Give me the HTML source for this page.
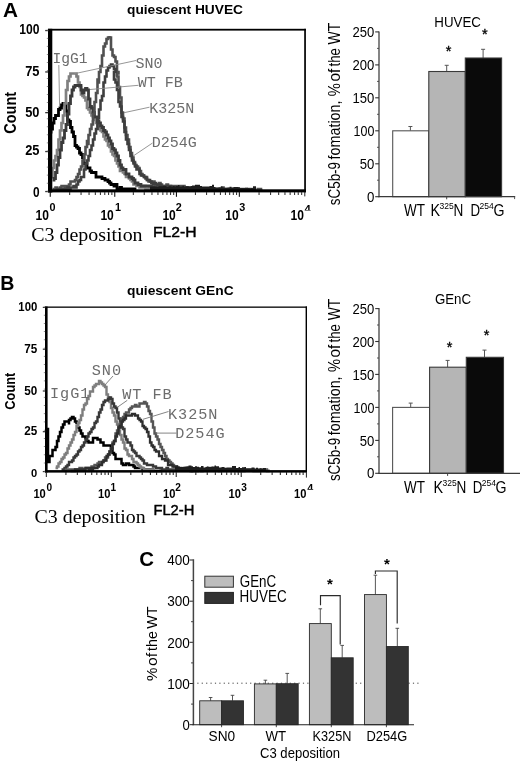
<!DOCTYPE html>
<html><head><meta charset="utf-8"><title>Figure</title>
<style>
html,body{margin:0;padding:0;background:#fff;}
svg{display:block;}
text{font-family:"Liberation Sans",sans-serif;fill:#000;}
.mono{font-family:"Liberation Mono",monospace;fill:#6c6c6c;}
.serif{font-family:"Liberation Serif",serif;}
.b{font-weight:bold;}
</style></head><body>
<svg width="520" height="762" viewBox="0 0 520 762">
<rect width="520" height="762" fill="#fff"/>
<g id="histA">
<path d="M51.0 133.5V130.5V129.0H52.5V126.0V124.5V123.0H54.0V121.5V118.5H55.5V115.5H57.0H58.5V112.5V109.5H60.0V108.0H61.5V106.5V105.0H63.0V103.5H64.5V105.0H66.0V108.0V111.0H67.5V112.5V114.0V115.5V118.5V120.0H69.0V121.5H70.5V124.5V127.5H72.0V129.0V130.5V132.0H73.5V133.5V135.0V136.5H75.0V139.5V141.0V142.5V145.5H76.5V147.0H78.0V148.5H79.5V151.5V153.0H81.0V154.5H82.5V157.5H84.0V159.0V163.5H85.5H87.0V165.0V168.0H88.5H90.0V171.0H91.5V172.5H94.5V171.0V172.5H96.0V175.5V177.0H97.5H100.5H102.0V178.5H103.5H105.0V180.0H106.5H108.0V181.5H109.5V183.0H111.0V184.5H112.5H114.0V186.0H115.5V184.5H117.0V187.5V189.0H120.0V187.5H121.5V189.0H123.0H126.0H127.5V190.5H129.0V189.0H130.5H132.0V190.5H133.5V189.0H135.0V190.5" fill="none" stroke="#000" stroke-width="2.8" stroke-linejoin="miter"/>
<path d="M52.5 178.5V177.0V174.0V171.0V169.5V168.0H54.0V166.5V165.0V163.5V160.5H55.5V157.5V156.0H57.0V154.5V151.5V150.0H58.5V147.0V145.5V142.5V139.5H60.0V136.5V133.5V130.5H61.5V129.0V127.5V126.0V123.0H63.0V121.5V120.0V117.0V115.5H64.5V114.0V112.5V111.0V109.5V108.0V105.0V103.5H66.0V100.5V99.0V96.0V94.5V93.0V91.5V90.0H67.5V87.0V85.5V84.0V82.5V81.0H69.0V78.0V76.5H70.5V73.5H73.5H76.5V76.5H78.0V79.5V82.5H79.5V84.0V87.0H81.0V90.0V91.5V94.5H82.5V96.0H84.0V97.5H85.5V100.5H87.0V103.5V105.0V108.0H88.5V109.5H90.0V112.5H91.5V115.5H93.0V117.0H94.5V120.0H96.0V121.5V123.0H97.5V126.0H99.0V129.0H100.5V130.5H102.0V132.0H103.5V135.0V136.5H105.0V138.0V139.5H106.5V141.0H108.0V142.5V145.5H109.5V147.0H111.0V148.5V151.5H112.5V154.5H114.0V156.0H115.5V157.5V159.0V160.5H117.0V163.5H118.5V165.0V166.5H120.0V168.0V171.0H121.5H123.0V172.5H124.5V174.0H126.0V175.5V177.0H127.5H129.0V178.5H130.5V180.0H132.0V181.5H133.5V184.5H135.0H136.5V186.0H138.0H139.5V187.5H141.0H144.0V186.0H145.5V189.0H147.0H148.5V187.5H151.5V189.0H153.0V190.5H154.5V189.0H156.0V190.5H157.5V189.0H159.0H162.0H163.5V190.5H165.0H166.5H168.0H169.5" fill="none" stroke="#808080" stroke-width="2.7" stroke-linejoin="miter"/>
<path d="M54.0 181.5V180.0V178.5H55.5V177.0V174.0V172.5H57.0V171.0V169.5V168.0V166.5V165.0H58.5V162.0V160.5V157.5H60.0V156.0V154.5V153.0V151.5V150.0H61.5V148.5V145.5V142.5H63.0V141.0V139.5V138.0H64.5V136.5V135.0V132.0V130.5H66.0V127.5V124.5H67.5V123.0V120.0V118.5V117.0V114.0H69.0V111.0V109.5V106.5V103.5H70.5V102.0V100.5V99.0V97.5V96.0H72.0V94.5V93.0V90.0H73.5V87.0H75.0V85.5H76.5H78.0V84.0V85.5H79.5H81.0V87.0V90.0H82.5V93.0H84.0V90.0H85.5V88.5H87.0V90.0H88.5V91.5V94.5V96.0V97.5V99.0H90.0V103.5V106.5H91.5V108.0H93.0V111.0V112.5H94.5V117.0H96.0H97.5V118.5V121.5H99.0V123.0H100.5V126.0H102.0V127.5H103.5V129.0V130.5H105.0V132.0H106.5V135.0H108.0V138.0H109.5V141.0H111.0V142.5V144.0H112.5V145.5V148.5H114.0V150.0H115.5V153.0H117.0V154.5V156.0H118.5V159.0V160.5H120.0V163.5V165.0H121.5V168.0H123.0V169.5H124.5H126.0V171.0V174.0H127.5H129.0V177.0H130.5H132.0V178.5H133.5V180.0H135.0V183.0H138.0V184.5H141.0V183.0V186.0H144.0H145.5H147.0H150.0H151.5V187.5H153.0V189.0H154.5V187.5H156.0V189.0H157.5V187.5H160.5H162.0H163.5V189.0H165.0H166.5H168.0V187.5H169.5V190.5H172.5V189.0" fill="none" stroke="#3a3a3a" stroke-width="2.8" stroke-linejoin="miter"/>
<path d="M52.5 189.0H54.0H55.5V187.5H57.0V189.0H60.0V187.5H61.5V186.0H63.0H64.5V187.5H66.0V186.0H69.0V184.5H70.5V181.5H72.0H73.5H75.0V180.0H76.5V178.5V177.0H78.0V174.0H79.5V171.0V169.5H81.0V168.0V166.5H82.5V163.5V160.5H84.0V157.5V156.0V154.5H85.5V153.0V150.0V148.5V147.0H87.0V144.0H88.5V142.5H87.0V141.0H88.5V139.5V138.0V135.0H90.0V133.5V130.5V129.0H91.5V127.5V124.5H93.0V121.5H91.5H93.0V118.5V117.0V114.0H94.5V112.5V109.5V106.5V102.0H96.0V100.5V97.5V96.0V94.5V93.0H97.5V91.5V90.0V87.0V84.0V82.5H99.0V81.0H97.5V79.5H99.0V76.5V73.5V72.0H100.5V70.5V69.0V66.0H102.0V63.0V60.0V58.5V55.5H103.5V54.0V51.0V48.0V46.5H105.0V43.5H106.5V40.5V39.0H108.0V37.5H109.5V36.0V37.5H111.0V39.0V40.5V42.0V43.5V46.5V48.0V49.5H112.5V51.0V52.5V55.5H114.0V57.0H115.5V58.5V60.0V61.5H117.0V64.5V66.0V67.5V70.5V72.0H118.5V73.5H117.0V76.5H118.5V79.5V81.0V82.5V85.5V87.0H120.0V90.0V91.5V93.0V96.0V97.5H121.5V99.0V100.5V103.5V105.0V108.0V109.5V112.5H123.0V114.0V115.5V117.0V118.5H124.5V121.5V123.0V124.5V127.5H126.0V129.0V132.0V135.0H127.5V136.5V138.0V139.5H129.0V142.5V144.0V147.0H130.5V148.5V151.5V153.0H132.0V154.5V156.0V157.5H133.5V162.0H135.0V165.0H136.5V166.5H138.0V168.0H139.5V171.0H141.0V174.0H142.5V175.5H144.0V177.0H147.0V178.5V180.0H148.5V181.5H150.0H151.5V183.0H153.0V181.5H154.5V184.5H156.0H159.0V183.0H160.5V184.5H162.0V186.0H165.0H166.5V184.5H168.0V186.0H169.5H171.0H174.0H175.5H177.0V187.5H178.5V186.0H180.0H181.5H183.0H184.5V187.5H186.0H189.0V189.0H190.5H192.0V187.5H193.5V189.0H195.0V190.5H196.5V189.0H198.0V190.5H199.5V189.0H201.0H204.0V190.5H205.5H207.0H208.5V189.0H210.0V190.5H211.5V189.0H213.0H214.5H216.0H219.0V190.5H220.5H222.0V187.5H223.5V189.0H225.0H226.5H228.0V190.5H229.5H231.0V189.0H234.0V190.5H235.5V189.0H237.0H238.5H240.0H241.5H243.0H244.5V190.5H247.5V189.0H249.0H250.5V190.5H252.0H253.5V189.0H255.0V190.5H256.5H258.0V189.0H261.0V190.5H262.5" fill="none" stroke="#505050" stroke-width="2.6" stroke-linejoin="miter"/>
<path d="M55.5 189.0H58.5H60.0H61.5H63.0H64.5H67.5V187.5H69.0V189.0H70.5V187.5H72.0H73.5V186.0H75.0V187.5H76.5V184.5H78.0V181.5H79.5V180.0H81.0V177.0H82.5H84.0V172.5V171.0V172.5V169.5H85.5V166.5V165.0V163.5H87.0V162.0V160.5H88.5V159.0V156.0H90.0V154.5V151.5V150.0H91.5V148.5V147.0V145.5H93.0V144.0V141.0V139.5H94.5V136.5V135.0V133.5H96.0V132.0V129.0H97.5V126.0V123.0V121.5V118.5H99.0V117.0V115.5V114.0V112.5V109.5H100.5V108.0V106.5V105.0V103.5V100.5H102.0V97.5V96.0H103.5V91.5V90.0V88.5V85.5V84.0V82.5H105.0V81.0V79.5V78.0V76.5H106.5V75.0V72.0V70.5H108.0V67.5H109.5V66.0H111.0V64.5H112.5V66.0H114.0V69.0H115.5V72.0H114.0V75.0H115.5H114.0V79.5H115.5V81.0V82.5H117.0V85.5V88.5V90.0H118.5V91.5V93.0V94.5V96.0V97.5V99.0V102.0H120.0V103.5V105.0V106.5H121.5V108.0V111.0V112.5V114.0V117.0H123.0V118.5V121.5H124.5V123.0V124.5V127.5V129.0V130.5V132.0H126.0V133.5V135.0V136.5V139.5H127.5V141.0V142.5V144.0H129.0V145.5V147.0V148.5V150.0H130.5V154.5V156.0H132.0V159.0V160.5H133.5V162.0V163.5H135.0V165.0V166.5H136.5V168.0V169.5H138.0H139.5V172.5V174.0H141.0V175.5H142.5H144.0V177.0H145.5V178.5H147.0V180.0H148.5H150.0V181.5H151.5V183.0H153.0V184.5H154.5V183.0H156.0V184.5H157.5V186.0H159.0V184.5H160.5V186.0H163.5H165.0H166.5H168.0H169.5H171.0V187.5H172.5H175.5H177.0V189.0H180.0H181.5H183.0V187.5H184.5V189.0H186.0V187.5H187.5V189.0H190.5H192.0H193.5H195.0" fill="none" stroke="#3e3e3e" stroke-width="2.6" stroke-linejoin="miter"/>
<polygon points="150.0,190.0 150.0,186.4 153.0,186.4 153.0,186.4 155.0,186.4 155.0,186.7 157.0,186.7 157.0,186.9 158.5,186.9 158.5,186.2 160.0,186.2 160.0,186.2 163.0,186.2 163.0,186.1 165.0,186.1 165.0,186.1 166.5,186.1 166.5,186.9 168.5,186.9 168.5,186.2 171.0,186.2 171.0,186.4 173.0,186.4 173.0,186.1 174.5,186.1 174.5,186.4 176.0,186.4 176.0,186.0 178.0,186.0 178.0,185.1 179.5,185.1 179.5,186.4 182.5,186.4 182.5,185.7 184.0,185.7 184.0,186.7 185.5,186.7 185.5,186.3 188.5,186.3 188.5,186.4 190.5,186.4 190.5,185.9 192.0,185.9 192.0,185.4 195.0,185.4 195.0,184.7 197.0,184.7 197.0,184.8 200.0,184.8 200.0,185.9 202.0,185.9 202.0,186.4 204.0,186.4 204.0,186.5 207.0,186.5 207.0,186.6 209.5,186.6 209.5,186.1 212.0,186.1 212.0,184.8 214.0,184.8 214.0,186.9 215.5,186.9 215.5,187.4 218.5,187.4 218.5,187.2 221.0,187.2 221.0,186.5 222.5,186.5 222.5,187.5 224.5,187.5 224.5,187.7 227.5,187.7 227.5,187.6 229.5,187.6 229.5,186.7 231.5,186.7 231.5,187.5 233.5,187.5 233.5,187.0 235.5,187.0 235.5,187.1 238.5,187.1 238.5,187.3 240.0,187.3 240.0,188.0 242.5,188.0 242.5,187.9 245.0,187.9 245.0,187.8 248.0,187.8 248.0,188.0 249.5,188.0 249.5,188.3 251.0,188.3 251.0,188.1 253.0,188.1 253.0,186.3 256.0,186.3 256.0,190.0" fill="#1e1e1e"/>
<rect x="48" y="28.8" width="4.3" height="163.7" fill="#000"/>
<rect x="48" y="189.3" width="257.9" height="3.1" fill="#000"/>
<rect x="48" y="28.8" width="257.9" height="1.8" fill="#000"/>
<rect x="304.2" y="28.8" width="1.7" height="163.4" fill="#000"/>
<rect x="45.2" y="29.9" width="3" height="1.3" fill="#333"/>
<text x="19.3" y="34.4" font-size="13.8" class="b" textLength="20.2" lengthAdjust="spacingAndGlyphs">100</text>
<rect x="45.2" y="71.3" width="3" height="1.3" fill="#333"/>
<text x="25.2" y="75.8" font-size="13.8" class="b" textLength="14.3" lengthAdjust="spacingAndGlyphs">75</text>
<rect x="45.2" y="112.0" width="3" height="1.3" fill="#333"/>
<text x="25.2" y="116.5" font-size="13.8" class="b" textLength="14.3" lengthAdjust="spacingAndGlyphs">50</text>
<rect x="45.2" y="150.9" width="3" height="1.3" fill="#333"/>
<text x="25.2" y="155.4" font-size="13.8" class="b" textLength="14.3" lengthAdjust="spacingAndGlyphs">25</text>
<rect x="45.2" y="190.9" width="3" height="1.3" fill="#333"/>
<text x="32.9" y="197.0" font-size="13.8" class="b" textLength="6.6" lengthAdjust="spacingAndGlyphs">0</text>
<rect x="46.8" y="29.8" width="1.4" height="0.8" fill="#777"/>
<rect x="46.8" y="37.9" width="1.4" height="0.8" fill="#777"/>
<rect x="46.8" y="45.9" width="1.4" height="0.8" fill="#777"/>
<rect x="46.8" y="54.0" width="1.4" height="0.8" fill="#777"/>
<rect x="46.8" y="62.0" width="1.4" height="0.8" fill="#777"/>
<rect x="46.8" y="70.0" width="1.4" height="0.8" fill="#777"/>
<rect x="46.8" y="78.1" width="1.4" height="0.8" fill="#777"/>
<rect x="46.8" y="86.2" width="1.4" height="0.8" fill="#777"/>
<rect x="46.8" y="94.2" width="1.4" height="0.8" fill="#777"/>
<rect x="46.8" y="102.2" width="1.4" height="0.8" fill="#777"/>
<rect x="46.8" y="110.3" width="1.4" height="0.8" fill="#777"/>
<rect x="46.8" y="118.4" width="1.4" height="0.8" fill="#777"/>
<rect x="46.8" y="126.4" width="1.4" height="0.8" fill="#777"/>
<rect x="46.8" y="134.4" width="1.4" height="0.8" fill="#777"/>
<rect x="46.8" y="142.5" width="1.4" height="0.8" fill="#777"/>
<rect x="46.8" y="150.6" width="1.4" height="0.8" fill="#777"/>
<rect x="46.8" y="158.6" width="1.4" height="0.8" fill="#777"/>
<rect x="46.8" y="166.7" width="1.4" height="0.8" fill="#777"/>
<rect x="46.8" y="174.7" width="1.4" height="0.8" fill="#777"/>
<rect x="46.8" y="182.8" width="1.4" height="0.8" fill="#777"/>
<rect x="46.8" y="190.8" width="1.4" height="0.8" fill="#777"/>
<rect x="49.7" y="192" width="1.1" height="4.8" fill="#111"/>
<rect x="69.1" y="192" width="1.1" height="3.0" fill="#3a3a3a"/>
<rect x="80.5" y="192" width="1.1" height="3.0" fill="#3a3a3a"/>
<rect x="88.5" y="192" width="1.1" height="3.0" fill="#3a3a3a"/>
<rect x="94.8" y="192" width="1.1" height="3.0" fill="#3a3a3a"/>
<rect x="99.9" y="192" width="1.1" height="3.0" fill="#3a3a3a"/>
<rect x="104.2" y="192" width="1.1" height="3.0" fill="#3a3a3a"/>
<rect x="108.0" y="192" width="1.1" height="3.0" fill="#3a3a3a"/>
<rect x="111.3" y="192" width="1.1" height="3.0" fill="#3a3a3a"/>
<rect x="114.2" y="192" width="1.1" height="4.8" fill="#111"/>
<rect x="132.8" y="192" width="1.1" height="3.0" fill="#3a3a3a"/>
<rect x="143.7" y="192" width="1.1" height="3.0" fill="#3a3a3a"/>
<rect x="151.4" y="192" width="1.1" height="3.0" fill="#3a3a3a"/>
<rect x="157.4" y="192" width="1.1" height="3.0" fill="#3a3a3a"/>
<rect x="162.3" y="192" width="1.1" height="3.0" fill="#3a3a3a"/>
<rect x="166.4" y="192" width="1.1" height="3.0" fill="#3a3a3a"/>
<rect x="170.0" y="192" width="1.1" height="3.0" fill="#3a3a3a"/>
<rect x="173.1" y="192" width="1.1" height="3.0" fill="#3a3a3a"/>
<rect x="175.9" y="192" width="1.1" height="4.8" fill="#111"/>
<rect x="194.9" y="192" width="1.1" height="3.0" fill="#3a3a3a"/>
<rect x="206.0" y="192" width="1.1" height="3.0" fill="#3a3a3a"/>
<rect x="213.8" y="192" width="1.1" height="3.0" fill="#3a3a3a"/>
<rect x="219.9" y="192" width="1.1" height="3.0" fill="#3a3a3a"/>
<rect x="224.9" y="192" width="1.1" height="3.0" fill="#3a3a3a"/>
<rect x="229.1" y="192" width="1.1" height="3.0" fill="#3a3a3a"/>
<rect x="232.8" y="192" width="1.1" height="3.0" fill="#3a3a3a"/>
<rect x="236.0" y="192" width="1.1" height="3.0" fill="#3a3a3a"/>
<rect x="238.8" y="192" width="1.1" height="4.8" fill="#111"/>
<rect x="258.5" y="192" width="1.1" height="3.0" fill="#3a3a3a"/>
<rect x="270.0" y="192" width="1.1" height="3.0" fill="#3a3a3a"/>
<rect x="278.1" y="192" width="1.1" height="3.0" fill="#3a3a3a"/>
<rect x="284.4" y="192" width="1.1" height="3.0" fill="#3a3a3a"/>
<rect x="289.6" y="192" width="1.1" height="3.0" fill="#3a3a3a"/>
<rect x="294.0" y="192" width="1.1" height="3.0" fill="#3a3a3a"/>
<rect x="297.7" y="192" width="1.1" height="3.0" fill="#3a3a3a"/>
<rect x="301.1" y="192" width="1.1" height="3.0" fill="#3a3a3a"/>
<rect x="304.3" y="192" width="1.0" height="4.4" fill="#222"/>
<text x="35.6" y="219.8" font-size="14" class="b" textLength="13.4" lengthAdjust="spacingAndGlyphs">10</text>
<text x="49.6" y="211" font-size="10" class="b" textLength="6.0" lengthAdjust="spacingAndGlyphs">0</text>
<text x="100.4" y="219.8" font-size="14" class="b" textLength="13.4" lengthAdjust="spacingAndGlyphs">10</text>
<text x="115.0" y="211" font-size="10" class="b" textLength="6.0" lengthAdjust="spacingAndGlyphs">1</text>
<text x="162.4" y="219.8" font-size="14" class="b" textLength="13.4" lengthAdjust="spacingAndGlyphs">10</text>
<text x="175.8" y="211" font-size="10" class="b" textLength="6.0" lengthAdjust="spacingAndGlyphs">2</text>
<text x="225.2" y="219.8" font-size="14" class="b" textLength="13.4" lengthAdjust="spacingAndGlyphs">10</text>
<text x="239.2" y="211" font-size="10" class="b" textLength="6.0" lengthAdjust="spacingAndGlyphs">3</text>
<text x="290.6" y="219.8" font-size="14" class="b" textLength="13.4" lengthAdjust="spacingAndGlyphs">10</text>
<clipPath id="c4a"><rect x="300" y="200" width="20" height="10.4"/></clipPath>
<text x="304.6" y="212.6" font-size="10.5" class="b" textLength="6.2" lengthAdjust="spacingAndGlyphs" clip-path="url(#c4a)">4</text>
<text x="52.6" y="63.3" font-size="14.6" class="mono">IgG1</text>
<text x="135.4" y="68.3" font-size="15" class="mono">SN0</text>
<text x="137.8" y="87" font-size="15" class="mono">WT FB</text>
<text x="149.2" y="113.3" font-size="15" class="mono">K325N</text>
<text x="151.8" y="146.6" font-size="15" class="mono">D254G</text>
<line x1="58.8" y1="65" x2="59.6" y2="106" stroke="#8a8a8a" stroke-width="0.9"/>
<line x1="136" y1="60.5" x2="74" y2="73.8" stroke="#8a8a8a" stroke-width="0.9"/>
<line x1="138.5" y1="85.3" x2="90" y2="89.5" stroke="#8a8a8a" stroke-width="0.9"/>
<line x1="149.5" y1="107.2" x2="124" y2="112.7" stroke="#8a8a8a" stroke-width="0.9"/>
<line x1="152.5" y1="143" x2="133.8" y2="155.6" stroke="#8a8a8a" stroke-width="0.9"/>
<text x="127" y="13.9" font-size="13.5" class="b" textLength="116" lengthAdjust="spacingAndGlyphs">quiescent HUVEC</text>
<text transform="translate(15.5,112.8) rotate(-90)" font-size="16.2" class="b" text-anchor="middle" textLength="41.8" lengthAdjust="spacingAndGlyphs">Count</text>
<text x="31.3" y="241.3" font-size="18.6" class="serif" textLength="111.3" lengthAdjust="spacingAndGlyphs">C3 deposition</text>
<text x="153" y="237.4" font-size="15.4" stroke="#000" stroke-width="0.45" textLength="43.6" lengthAdjust="spacingAndGlyphs">FL2-H</text>
<text transform="translate(2.9,16.5) scale(1.06,1)" font-size="19.6" class="b">A</text>
</g>
<g id="histB">
<path d="M46.5 429.0H48.0V430.5V432.0V433.5V435.0V438.0V441.0V442.5V445.5V447.0V450.0V451.5V453.0V456.0V457.5V460.5V462.0H49.5V459.0V456.0H51.0H52.5V453.0V450.0H54.0H55.5V447.0H57.0V444.0V442.5V441.0H58.5V439.5V436.5H60.0V433.5V432.0H61.5V430.5V427.5H63.0V426.0V424.5H64.5V423.0V421.5H67.5H69.0V424.5V423.0V420.0H70.5V418.5H72.0V417.0H73.5V418.5H75.0V421.5H76.5V423.0H78.0V424.5V426.0V427.5H79.5V430.5H81.0V433.5H82.5V435.0V436.5H85.5V438.0H87.0V441.0H88.5V442.5H90.0H91.5H93.0V438.0H94.5H96.0H97.5V439.5H100.5V441.0V442.5H102.0H103.5V445.5H105.0H108.0H109.5H111.0V448.5H112.5V451.5V453.0H114.0V454.5H115.5V456.0V459.0H118.5H120.0H121.5V462.0V463.5H123.0V465.0H124.5H126.0V463.5H129.0V465.0H130.5H132.0H133.5V466.5H135.0V468.0H136.5H138.0H139.5H141.0H142.5V469.5H145.5H147.0H148.5H150.0V471.0H151.5V469.5H153.0V471.0H154.5H156.0H157.5H160.5V469.5" fill="none" stroke="#000" stroke-width="2.5" stroke-linejoin="miter"/>
<path d="M55.5 468.0H57.0V466.5H58.5V463.5H60.0V462.0H61.5V460.5V459.0H63.0V457.5H64.5V454.5H66.0V453.0H67.5V451.5V450.0V448.5H69.0V447.0V445.5H70.5V444.0V442.5H72.0V441.0V439.5H73.5V438.0V435.0H75.0V433.5V432.0H76.5V429.0V426.0H78.0V423.0H79.5V421.5V420.0H81.0V417.0V415.5H82.5V412.5V411.0V409.5H84.0V408.0V405.0H85.5V403.5H87.0V402.0V399.0H88.5V396.0H90.0V394.5V391.5H91.5H93.0V390.0V387.0H94.5V385.5H96.0V384.0H97.5H99.0V381.0H100.5V382.5H102.0V384.0H103.5V385.5H105.0V387.0H106.5V390.0V393.0V394.5H108.0V396.0V397.5H109.5V400.5V402.0H111.0V403.5V405.0V406.5V408.0H112.5V409.5V411.0V412.5H114.0V415.5H115.5V417.0V420.0V421.5H117.0V423.0V424.5H118.5V426.0V429.0V430.5H120.0V433.5V435.0H121.5V438.0V439.5H123.0V441.0V442.5H124.5V444.0V445.5V448.5H126.0V450.0H127.5V451.5V453.0V454.5H129.0V456.0H130.5H132.0V459.0H133.5V462.0H135.0H136.5V463.5H138.0V465.0H139.5V466.5H141.0V468.0H142.5H144.0V469.5H145.5H148.5H150.0H151.5H153.0H154.5" fill="none" stroke="#7e7e7e" stroke-width="2.4" stroke-linejoin="miter"/>
<path d="M61.5 469.5H63.0H64.5V468.0H66.0V466.5H67.5V465.0H69.0V463.5V462.0H72.0V460.5H73.5V459.0V457.5H75.0V456.0H76.5V454.5H78.0V453.0V451.5H79.5V450.0H81.0V447.0H82.5V445.5H84.0V444.0V442.5H85.5V441.0V439.5H87.0V436.5H88.5V433.5H90.0V432.0H91.5V430.5V429.0H93.0V427.5H94.5V426.0V423.0H96.0V421.5H97.5V420.0V418.5V417.0H99.0V414.0V412.5H100.5V411.0V409.5H102.0V406.5V405.0H103.5V402.0H105.0V400.5H106.5H108.0V399.0H109.5V397.5H111.0V399.0H112.5V400.5V403.5H114.0V406.5H115.5V408.0H117.0V409.5V411.0V412.5H118.5V415.5V417.0V418.5H120.0V420.0V421.5V423.0H121.5V424.5V427.5H123.0V429.0H124.5V432.0V433.5V436.5H126.0V438.0V439.5H127.5V442.5H129.0H130.5V444.0V445.5H132.0V447.0V450.0H133.5V451.5H135.0V453.0H136.5V454.5V456.0H138.0H139.5V457.5H141.0V459.0H142.5V460.5H144.0V463.5H145.5H147.0V465.0H148.5H150.0H151.5H153.0V466.5H154.5H156.0V468.0H159.0H160.5H162.0V469.5H163.5H165.0H166.5V468.0H168.0V469.5H169.5H171.0H174.0H175.5" fill="none" stroke="#383838" stroke-width="2.4" stroke-linejoin="miter"/>
<path d="M64.5 471.0H66.0V469.5H67.5H69.0H70.5H72.0H73.5H75.0H76.5H78.0H79.5V468.0H81.0H82.5V469.5H85.5V468.0H87.0H88.5H90.0H91.5V466.5H93.0V468.0H94.5V465.0H96.0H97.5V463.5H99.0V462.0H100.5V463.5H102.0V462.0H103.5V460.5H105.0V459.0V457.5H106.5H108.0V454.5H109.5V451.5H111.0V450.0V448.5H112.5V447.0V445.5V442.5H114.0V441.0H115.5V438.0V436.5V433.5H117.0V432.0V430.5H118.5V429.0V426.0H120.0V424.5V423.0H121.5V420.0V418.5H123.0V417.0H124.5V415.5V414.0H126.0V412.5H127.5H129.0V409.5H130.5V408.0H132.0V406.5H135.0V405.0H136.5V406.5H138.0H139.5V403.5H142.5H144.0V402.0H145.5V403.5H147.0V406.5H148.5V408.0V409.5V411.0H150.0V414.0H151.5V417.0V420.0V421.5H153.0V424.5V426.0V427.5H154.5V429.0V433.5H156.0V436.5H157.5V439.5H159.0V441.0V444.0H160.5V445.5V447.0H162.0V450.0H163.5V451.5V453.0H165.0V454.5V456.0H166.5V457.5V459.0H168.0V460.5H169.5V462.0H171.0V463.5H172.5V465.0H174.0V466.5H175.5H177.0V468.0H178.5H181.5V469.5H183.0H184.5H186.0H187.5H189.0H192.0V471.0H193.5H195.0H196.5H198.0V469.5H199.5H201.0V471.0H202.5V469.5H205.5H207.0V468.0H208.5V469.5H210.0V468.0H211.5V469.5H213.0H214.5H216.0H219.0V471.0H220.5V469.5H222.0H223.5H225.0H226.5H228.0H229.5H231.0H234.0H235.5H237.0H238.5V471.0H240.0V469.5H241.5H243.0V471.0H244.5V469.5H246.0H249.0H250.5H252.0H253.5V471.0H255.0H256.5H258.0H259.5V469.5H261.0H264.0V471.0V469.5H267.0V471.0H268.5V469.5" fill="none" stroke="#555" stroke-width="2.4" stroke-linejoin="miter"/>
<path d="M70.5 471.0H72.0H73.5H75.0V469.5H76.5H78.0H79.5H81.0H82.5H85.5V468.0H87.0H88.5V469.5H90.0V468.0H91.5V469.5H93.0V468.0H94.5H97.5V466.5H99.0V465.0H102.0V462.0H103.5V460.5H105.0H106.5V459.0V456.0H108.0V454.5H109.5V453.0V451.5H111.0V450.0V448.5H112.5V445.5V444.0H114.0V442.5V441.0H115.5V438.0V436.5H117.0V435.0V433.5H118.5V430.5V427.5H120.0V426.0H121.5V424.5V421.5H123.0V420.0H124.5V418.5H126.0V415.5H127.5H129.0H130.5H132.0V414.0H135.0V415.5H138.0V417.0V418.5H139.5V420.0H141.0V421.5H142.5V424.5V426.0H144.0V427.5H145.5V429.0H147.0V430.5V432.0H148.5V433.5V436.5H150.0V438.0V441.0V442.5H151.5V444.0V445.5H153.0V447.0H154.5V448.5V450.0H156.0V451.5H157.5H159.0V454.5V456.0H160.5H162.0V459.0H163.5H165.0V460.5H166.5H168.0V463.5V465.0H169.5H172.5V466.5H175.5H177.0V468.0H178.5V469.5H181.5H183.0H184.5H186.0H187.5H189.0H190.5V471.0H192.0V469.5" fill="none" stroke="#2e2e2e" stroke-width="2.3" stroke-linejoin="miter"/>
<polygon points="175.0,471.0 175.0,466.6 176.5,466.6 176.5,466.3 178.5,466.3 178.5,466.6 180.0,466.6 180.0,466.9 183.0,466.9 183.0,466.7 184.5,466.7 184.5,466.4 186.5,466.4 186.5,466.2 188.5,466.2 188.5,465.4 191.5,465.4 191.5,466.2 193.0,466.2 193.0,467.1 195.0,467.1 195.0,466.3 197.0,466.3 197.0,466.7 199.0,466.7 199.0,467.2 201.0,467.2 201.0,466.1 203.5,466.1 203.5,467.4 205.5,467.4 205.5,467.1 207.0,467.1 207.0,466.6 208.5,466.6 208.5,467.0 211.5,467.0 211.5,466.5 214.5,466.5 214.5,465.5 216.0,465.5 216.0,466.2 219.0,466.2 219.0,467.5 221.5,467.5 221.5,467.1 224.5,467.1 224.5,467.7 226.5,467.7 226.5,467.6 229.5,467.6 229.5,467.5 232.0,467.5 232.0,466.0 234.5,466.0 234.5,466.0 236.0,466.0 236.0,467.9 238.5,467.9 238.5,467.0 240.0,467.0 240.0,467.9 242.0,467.9 242.0,467.3 244.5,467.3 244.5,467.1 246.0,467.1 246.0,468.4 249.0,468.4 249.0,468.5 251.5,468.5 251.5,467.6 254.5,467.6 254.5,468.6 256.0,468.6 256.0,467.8 258.0,467.8 258.0,468.7 260.0,468.7 260.0,468.2 261.5,468.2 261.5,468.8 263.0,468.8 263.0,468.0 266.0,468.0 266.0,471.0" fill="#1e1e1e"/>
<rect x="45" y="306.5" width="2.6" height="166" fill="#000"/>
<rect x="45" y="470.1" width="262" height="2.5" fill="#000"/>
<rect x="45" y="306.5" width="262" height="1.3" fill="#000"/>
<rect x="305.6" y="306.5" width="1.4" height="165" fill="#000"/>
<rect x="42.8" y="306.8" width="2.4" height="1.2" fill="#333"/>
<text x="18.3" y="310.9" font-size="13" class="b" textLength="19.0" lengthAdjust="spacingAndGlyphs">100</text>
<rect x="42.8" y="348.6" width="2.4" height="1.2" fill="#333"/>
<text x="24.3" y="352.7" font-size="13" class="b" textLength="13.0" lengthAdjust="spacingAndGlyphs">75</text>
<rect x="42.8" y="390.4" width="2.4" height="1.2" fill="#333"/>
<text x="24.3" y="394.5" font-size="13" class="b" textLength="13.0" lengthAdjust="spacingAndGlyphs">50</text>
<rect x="42.8" y="431.1" width="2.4" height="1.2" fill="#333"/>
<text x="24.3" y="435.2" font-size="13" class="b" textLength="13.0" lengthAdjust="spacingAndGlyphs">25</text>
<rect x="42.8" y="471.0" width="2.4" height="1.2" fill="#333"/>
<text x="31.0" y="477.1" font-size="11" class="b" textLength="6.2" lengthAdjust="spacingAndGlyphs">0</text>
<rect x="43.8" y="306.6" width="1.3" height="0.8" fill="#777"/>
<rect x="43.8" y="314.8" width="1.3" height="0.8" fill="#777"/>
<rect x="43.8" y="323.0" width="1.3" height="0.8" fill="#777"/>
<rect x="43.8" y="331.2" width="1.3" height="0.8" fill="#777"/>
<rect x="43.8" y="339.4" width="1.3" height="0.8" fill="#777"/>
<rect x="43.8" y="347.7" width="1.3" height="0.8" fill="#777"/>
<rect x="43.8" y="355.9" width="1.3" height="0.8" fill="#777"/>
<rect x="43.8" y="364.1" width="1.3" height="0.8" fill="#777"/>
<rect x="43.8" y="372.3" width="1.3" height="0.8" fill="#777"/>
<rect x="43.8" y="380.5" width="1.3" height="0.8" fill="#777"/>
<rect x="43.8" y="388.7" width="1.3" height="0.8" fill="#777"/>
<rect x="43.8" y="396.9" width="1.3" height="0.8" fill="#777"/>
<rect x="43.8" y="405.1" width="1.3" height="0.8" fill="#777"/>
<rect x="43.8" y="413.3" width="1.3" height="0.8" fill="#777"/>
<rect x="43.8" y="421.5" width="1.3" height="0.8" fill="#777"/>
<rect x="43.8" y="429.8" width="1.3" height="0.8" fill="#777"/>
<rect x="43.8" y="438.0" width="1.3" height="0.8" fill="#777"/>
<rect x="43.8" y="446.2" width="1.3" height="0.8" fill="#777"/>
<rect x="43.8" y="454.4" width="1.3" height="0.8" fill="#777"/>
<rect x="43.8" y="462.6" width="1.3" height="0.8" fill="#777"/>
<rect x="43.8" y="470.8" width="1.3" height="0.8" fill="#777"/>
<rect x="45.8" y="472" width="1.05" height="5.0" fill="#222"/>
<rect x="65.4" y="472" width="1.05" height="3.0" fill="#222"/>
<rect x="76.8" y="472" width="1.05" height="3.0" fill="#222"/>
<rect x="84.9" y="472" width="1.05" height="3.0" fill="#222"/>
<rect x="91.2" y="472" width="1.05" height="3.0" fill="#222"/>
<rect x="96.3" y="472" width="1.05" height="3.0" fill="#222"/>
<rect x="100.7" y="472" width="1.05" height="3.0" fill="#222"/>
<rect x="104.5" y="472" width="1.05" height="3.0" fill="#222"/>
<rect x="107.8" y="472" width="1.05" height="3.0" fill="#222"/>
<rect x="110.8" y="472" width="1.05" height="5.0" fill="#222"/>
<rect x="130.3" y="472" width="1.05" height="3.0" fill="#222"/>
<rect x="141.7" y="472" width="1.05" height="3.0" fill="#222"/>
<rect x="149.9" y="472" width="1.05" height="3.0" fill="#222"/>
<rect x="156.1" y="472" width="1.05" height="3.0" fill="#222"/>
<rect x="161.3" y="472" width="1.05" height="3.0" fill="#222"/>
<rect x="165.6" y="472" width="1.05" height="3.0" fill="#222"/>
<rect x="169.4" y="472" width="1.05" height="3.0" fill="#222"/>
<rect x="172.7" y="472" width="1.05" height="3.0" fill="#222"/>
<rect x="175.7" y="472" width="1.05" height="5.0" fill="#222"/>
<rect x="195.3" y="472" width="1.05" height="3.0" fill="#222"/>
<rect x="206.7" y="472" width="1.05" height="3.0" fill="#222"/>
<rect x="214.8" y="472" width="1.05" height="3.0" fill="#222"/>
<rect x="221.1" y="472" width="1.05" height="3.0" fill="#222"/>
<rect x="226.2" y="472" width="1.05" height="3.0" fill="#222"/>
<rect x="230.6" y="472" width="1.05" height="3.0" fill="#222"/>
<rect x="234.4" y="472" width="1.05" height="3.0" fill="#222"/>
<rect x="237.7" y="472" width="1.05" height="3.0" fill="#222"/>
<rect x="240.7" y="472" width="1.05" height="5.0" fill="#222"/>
<rect x="260.2" y="472" width="1.05" height="3.0" fill="#222"/>
<rect x="271.6" y="472" width="1.05" height="3.0" fill="#222"/>
<rect x="279.8" y="472" width="1.05" height="3.0" fill="#222"/>
<rect x="286.0" y="472" width="1.05" height="3.0" fill="#222"/>
<rect x="291.2" y="472" width="1.05" height="3.0" fill="#222"/>
<rect x="295.5" y="472" width="1.05" height="3.0" fill="#222"/>
<rect x="299.3" y="472" width="1.05" height="3.0" fill="#222"/>
<rect x="302.6" y="472" width="1.05" height="3.0" fill="#222"/>
<rect x="305.9" y="472" width="1" height="5.6" fill="#222"/>
<text x="33.4" y="498.3" font-size="13.6" class="b" textLength="12.4" lengthAdjust="spacingAndGlyphs">10</text>
<text x="46.4" y="491.4" font-size="10" class="b" textLength="5.6" lengthAdjust="spacingAndGlyphs">0</text>
<text x="98.0" y="498.3" font-size="13.6" class="b" textLength="12.4" lengthAdjust="spacingAndGlyphs">10</text>
<text x="110.6" y="491.4" font-size="10" class="b" textLength="5.6" lengthAdjust="spacingAndGlyphs">1</text>
<text x="163.0" y="498.3" font-size="13.6" class="b" textLength="12.4" lengthAdjust="spacingAndGlyphs">10</text>
<text x="175.2" y="491.4" font-size="10" class="b" textLength="5.6" lengthAdjust="spacingAndGlyphs">2</text>
<text x="228.5" y="498.3" font-size="13.6" class="b" textLength="12.4" lengthAdjust="spacingAndGlyphs">10</text>
<text x="241.2" y="491.4" font-size="10" class="b" textLength="5.6" lengthAdjust="spacingAndGlyphs">3</text>
<text x="294.1" y="498.3" font-size="13.6" class="b" textLength="12.4" lengthAdjust="spacingAndGlyphs">10</text>
<clipPath id="c4b"><rect x="300" y="480" width="20" height="9.8"/></clipPath>
<text x="307.2" y="491.8" font-size="10.5" class="b" textLength="6" lengthAdjust="spacingAndGlyphs" clip-path="url(#c4b)">4</text>
<text x="50" y="398" font-size="15.2" letter-spacing="0.95" class="mono">IgG1</text>
<text x="91.8" y="374.8" font-size="15.2" letter-spacing="0.95" class="mono">SN0</text>
<text x="122.3" y="398.6" font-size="15.2" letter-spacing="0.95" class="mono">WT FB</text>
<text x="168" y="418.6" font-size="15.2" letter-spacing="0.95" class="mono">K325N</text>
<text x="175.2" y="437.8" font-size="15.2" letter-spacing="0.95" class="mono">D254G</text>
<line x1="113" y1="376" x2="104.5" y2="385.5" stroke="#777" stroke-width="0.9"/>
<line x1="127.3" y1="400.3" x2="117" y2="407.5" stroke="#777" stroke-width="0.9"/>
<line x1="168.5" y1="411.5" x2="143" y2="419.3" stroke="#777" stroke-width="0.9"/>
<line x1="176.5" y1="433.1" x2="155.8" y2="433.1" stroke="#777" stroke-width="0.9"/>
<text x="127" y="295.3" font-size="13.2" class="b" textLength="106.6" lengthAdjust="spacingAndGlyphs">quiescent GEnC</text>
<text transform="translate(14.9,391.2) rotate(-90)" font-size="15.4" class="b" text-anchor="middle" textLength="37" lengthAdjust="spacingAndGlyphs">Count</text>
<text x="34.6" y="522.7" font-size="18.6" class="serif" textLength="111" lengthAdjust="spacingAndGlyphs">C3 deposition</text>
<text x="153.4" y="515" font-size="14.6" stroke="#000" stroke-width="0.45" textLength="41" lengthAdjust="spacingAndGlyphs">FL2-H</text>
<text transform="translate(0.2,289.5) scale(1.0,1)" font-size="19.6" class="b">B</text>
</g>
<g id="barA">
<line x1="410.4" y1="130.8" x2="410.4" y2="126.5" stroke="#555" stroke-width="1"/>
<line x1="408.4" y1="126.5" x2="412.4" y2="126.5" stroke="#555" stroke-width="1"/>
<rect x="392.7" y="130.8" width="36.1" height="65.9" fill="#fff" stroke="#555" stroke-width="1.1"/>
<line x1="446.7" y1="71.5" x2="446.7" y2="65.3" stroke="#555" stroke-width="1"/>
<line x1="444.7" y1="65.3" x2="448.7" y2="65.3" stroke="#555" stroke-width="1"/>
<rect x="428.8" y="71.5" width="36.5" height="125.2" fill="#b5b5b5" stroke="#3a3a3a" stroke-width="1.1"/>
<line x1="446.7" y1="196.7" x2="446.7" y2="199.3" stroke="#444" stroke-width="1"/>
<line x1="483.1" y1="58.0" x2="483.1" y2="49.3" stroke="#555" stroke-width="1"/>
<line x1="481.1" y1="49.3" x2="485.1" y2="49.3" stroke="#555" stroke-width="1"/>
<rect x="465.3" y="58.0" width="36.3" height="138.7" fill="#0a0a0a" stroke="#3a3a3a" stroke-width="1.1"/>
<line x1="379.0" y1="31.4" x2="379.0" y2="197.2" stroke="#333" stroke-width="1.2"/>
<line x1="378.5" y1="196.7" x2="515.2" y2="196.7" stroke="#3a3a3a" stroke-width="1.3"/>
<line x1="514.6" y1="196.7" x2="514.6" y2="199.1" stroke="#555" stroke-width="1"/>
<line x1="375.2" y1="196.7" x2="379.0" y2="196.7" stroke="#333" stroke-width="1.1"/>
<text x="367.0" y="201.8" font-size="14.5" textLength="7.4" lengthAdjust="spacingAndGlyphs">0</text>
<line x1="377.0" y1="180.2" x2="379.0" y2="180.2" stroke="#444" stroke-width="0.9"/>
<line x1="375.2" y1="163.8" x2="379.0" y2="163.8" stroke="#333" stroke-width="1.1"/>
<text x="359.8" y="168.9" font-size="14.5" textLength="14.6" lengthAdjust="spacingAndGlyphs">50</text>
<line x1="377.0" y1="147.3" x2="379.0" y2="147.3" stroke="#444" stroke-width="0.9"/>
<line x1="375.2" y1="130.8" x2="379.0" y2="130.8" stroke="#333" stroke-width="1.1"/>
<text x="353.6" y="135.9" font-size="14.5" textLength="20.8" lengthAdjust="spacingAndGlyphs">100</text>
<line x1="377.0" y1="114.3" x2="379.0" y2="114.3" stroke="#444" stroke-width="0.9"/>
<line x1="375.2" y1="97.8" x2="379.0" y2="97.8" stroke="#333" stroke-width="1.1"/>
<text x="352.6" y="103.0" font-size="14.5" textLength="21.8" lengthAdjust="spacingAndGlyphs">150</text>
<line x1="377.0" y1="81.4" x2="379.0" y2="81.4" stroke="#444" stroke-width="0.9"/>
<line x1="375.2" y1="64.9" x2="379.0" y2="64.9" stroke="#333" stroke-width="1.1"/>
<text x="352.6" y="70.0" font-size="14.5" textLength="21.8" lengthAdjust="spacingAndGlyphs">200</text>
<line x1="377.0" y1="48.4" x2="379.0" y2="48.4" stroke="#444" stroke-width="0.9"/>
<line x1="375.2" y1="31.9" x2="379.0" y2="31.9" stroke="#333" stroke-width="1.1"/>
<text x="352.6" y="37.1" font-size="14.5" textLength="21.8" lengthAdjust="spacingAndGlyphs">250</text>
<text x="434.3" y="26.9" font-size="15" textLength="46.6" lengthAdjust="spacingAndGlyphs">HUVEC</text>
<text x="448.5" y="56.0" font-size="14.5" text-anchor="middle" stroke="#000" stroke-width="0.35">*</text>
<text x="484.8" y="38.7" font-size="14.5" text-anchor="middle" stroke="#000" stroke-width="0.35">*</text>
<text x="404" y="215.5" font-size="15.8" textLength="21" lengthAdjust="spacingAndGlyphs">WT</text>
<text x="430.6" y="215.5" font-size="15.8" textLength="9.6" lengthAdjust="spacingAndGlyphs">K</text>
<text x="439.6" y="209.3" font-size="9.8" textLength="14.2" lengthAdjust="spacingAndGlyphs">325</text>
<text x="453.6" y="215.5" font-size="15.8" textLength="9.8" lengthAdjust="spacingAndGlyphs">N</text>
<text x="470.6" y="215.5" font-size="15.8" textLength="9.6" lengthAdjust="spacingAndGlyphs">D</text>
<text x="479.5" y="209.3" font-size="9.8" textLength="14.2" lengthAdjust="spacingAndGlyphs">254</text>
<text x="493.4" y="215.5" font-size="15.8" textLength="11" lengthAdjust="spacingAndGlyphs">G</text>
<g transform="translate(339.9,204.7) rotate(-90)">
<text x="-0.5" y="0" font-size="16.2" textLength="43.2" lengthAdjust="spacingAndGlyphs">sC5b-9</text>
<text x="45.3" y="0" font-size="16.2" textLength="58.9" lengthAdjust="spacingAndGlyphs">fomation,</text>
<text x="108.5" y="0" font-size="16.2" textLength="13.1" lengthAdjust="spacingAndGlyphs">%</text>
<text x="123.2" y="0" font-size="16.2" textLength="12.8" lengthAdjust="spacingAndGlyphs">of</text>
<text x="138.2" y="0" font-size="16.2" textLength="18.4" lengthAdjust="spacingAndGlyphs">the</text>
<text x="160.3" y="0" font-size="16.2" textLength="21.5" lengthAdjust="spacingAndGlyphs">WT</text>
</g>
</g>
<g id="barB">
<line x1="410.7" y1="407.4" x2="410.7" y2="403.1" stroke="#555" stroke-width="1"/>
<line x1="408.7" y1="403.1" x2="412.7" y2="403.1" stroke="#555" stroke-width="1"/>
<rect x="392.6" y="407.4" width="37.0" height="65.9" fill="#fff" stroke="#555" stroke-width="1.1"/>
<line x1="447.6" y1="367.2" x2="447.6" y2="360.4" stroke="#555" stroke-width="1"/>
<line x1="445.6" y1="360.4" x2="449.6" y2="360.4" stroke="#555" stroke-width="1"/>
<rect x="429.6" y="367.2" width="36.7" height="106.1" fill="#b5b5b5" stroke="#3a3a3a" stroke-width="1.1"/>
<line x1="447.6" y1="473.3" x2="447.6" y2="475.9" stroke="#444" stroke-width="1"/>
<line x1="484.5" y1="357.3" x2="484.5" y2="350.1" stroke="#555" stroke-width="1"/>
<line x1="482.5" y1="350.1" x2="486.5" y2="350.1" stroke="#555" stroke-width="1"/>
<rect x="466.3" y="357.3" width="37.2" height="116.0" fill="#0a0a0a" stroke="#3a3a3a" stroke-width="1.1"/>
<line x1="379.0" y1="308.1" x2="379.0" y2="473.8" stroke="#333" stroke-width="1.2"/>
<line x1="378.5" y1="473.3" x2="520.0" y2="473.3" stroke="#3a3a3a" stroke-width="1.3"/>
<line x1="375.2" y1="473.3" x2="379.0" y2="473.3" stroke="#333" stroke-width="1.1"/>
<text x="367.0" y="478.4" font-size="14.5" textLength="7.4" lengthAdjust="spacingAndGlyphs">0</text>
<line x1="377.0" y1="456.8" x2="379.0" y2="456.8" stroke="#444" stroke-width="0.9"/>
<line x1="375.2" y1="440.4" x2="379.0" y2="440.4" stroke="#333" stroke-width="1.1"/>
<text x="359.8" y="445.5" font-size="14.5" textLength="14.6" lengthAdjust="spacingAndGlyphs">50</text>
<line x1="377.0" y1="423.9" x2="379.0" y2="423.9" stroke="#444" stroke-width="0.9"/>
<line x1="375.2" y1="407.4" x2="379.0" y2="407.4" stroke="#333" stroke-width="1.1"/>
<text x="353.6" y="412.5" font-size="14.5" textLength="20.8" lengthAdjust="spacingAndGlyphs">100</text>
<line x1="377.0" y1="390.9" x2="379.0" y2="390.9" stroke="#444" stroke-width="0.9"/>
<line x1="375.2" y1="374.4" x2="379.0" y2="374.4" stroke="#333" stroke-width="1.1"/>
<text x="352.6" y="379.6" font-size="14.5" textLength="21.8" lengthAdjust="spacingAndGlyphs">150</text>
<line x1="377.0" y1="358.0" x2="379.0" y2="358.0" stroke="#444" stroke-width="0.9"/>
<line x1="375.2" y1="341.5" x2="379.0" y2="341.5" stroke="#333" stroke-width="1.1"/>
<text x="352.6" y="346.6" font-size="14.5" textLength="21.8" lengthAdjust="spacingAndGlyphs">200</text>
<line x1="377.0" y1="325.0" x2="379.0" y2="325.0" stroke="#444" stroke-width="0.9"/>
<line x1="375.2" y1="308.6" x2="379.0" y2="308.6" stroke="#333" stroke-width="1.1"/>
<text x="352.6" y="313.7" font-size="14.5" textLength="21.8" lengthAdjust="spacingAndGlyphs">250</text>
<text x="434.9" y="303.5" font-size="15" textLength="36.2" lengthAdjust="spacingAndGlyphs">GEnC</text>
<text x="449.6" y="352.0" font-size="14.5" text-anchor="middle" stroke="#000" stroke-width="0.35">*</text>
<text x="486.5" y="339.7" font-size="14.5" text-anchor="middle" stroke="#000" stroke-width="0.35">*</text>
<text x="404" y="492.6" font-size="15.8" textLength="21" lengthAdjust="spacingAndGlyphs">WT</text>
<text x="433.5" y="492.6" font-size="15.8" textLength="9.6" lengthAdjust="spacingAndGlyphs">K</text>
<text x="442.5" y="486.4" font-size="9.8" textLength="14.2" lengthAdjust="spacingAndGlyphs">325</text>
<text x="456.5" y="492.6" font-size="15.8" textLength="9.8" lengthAdjust="spacingAndGlyphs">N</text>
<text x="472.8" y="492.6" font-size="15.8" textLength="9.6" lengthAdjust="spacingAndGlyphs">D</text>
<text x="481.7" y="486.4" font-size="9.8" textLength="14.2" lengthAdjust="spacingAndGlyphs">254</text>
<text x="495.6" y="492.6" font-size="15.8" textLength="11" lengthAdjust="spacingAndGlyphs">G</text>
<g transform="translate(339.9,480.6) rotate(-90)">
<text x="-0.5" y="0" font-size="16.2" textLength="43.2" lengthAdjust="spacingAndGlyphs">sC5b-9</text>
<text x="45.3" y="0" font-size="16.2" textLength="58.9" lengthAdjust="spacingAndGlyphs">fomation,</text>
<text x="108.5" y="0" font-size="16.2" textLength="13.1" lengthAdjust="spacingAndGlyphs">%</text>
<text x="123.2" y="0" font-size="16.2" textLength="12.8" lengthAdjust="spacingAndGlyphs">of</text>
<text x="138.2" y="0" font-size="16.2" textLength="18.4" lengthAdjust="spacingAndGlyphs">the</text>
<text x="160.3" y="0" font-size="16.2" textLength="21.5" lengthAdjust="spacingAndGlyphs">WT</text>
</g>
</g>
<g id="panelC">
<line x1="192.9" y1="683.2" x2="421" y2="683.2" stroke="#444" stroke-width="1" stroke-dasharray="1.2,3.2"/>
<line x1="210.6" y1="700.8" x2="210.6" y2="697.5" stroke="#444" stroke-width="0.9"/>
<line x1="208.8" y1="697.5" x2="212.4" y2="697.5" stroke="#444" stroke-width="0.9"/>
<rect x="199.7" y="700.8" width="21.9" height="23.9" fill="#bdbdbd" stroke="#2a2a2a" stroke-width="0.9"/>
<line x1="232.5" y1="700.8" x2="232.5" y2="695.3" stroke="#444" stroke-width="0.9"/>
<line x1="230.7" y1="695.3" x2="234.3" y2="695.3" stroke="#444" stroke-width="0.9"/>
<rect x="221.6" y="700.8" width="21.9" height="23.9" fill="#333" stroke="#2a2a2a" stroke-width="0.9"/>
<line x1="221.6" y1="724.7" x2="221.6" y2="727.2" stroke="#333" stroke-width="0.9"/>
<text x="208.6" y="740.9" font-size="14.8" textLength="26.6" lengthAdjust="spacingAndGlyphs">SN0</text>
<line x1="265.4" y1="683.9" x2="265.4" y2="680.2" stroke="#444" stroke-width="0.9"/>
<line x1="263.6" y1="680.2" x2="267.2" y2="680.2" stroke="#444" stroke-width="0.9"/>
<rect x="254.4" y="683.9" width="21.9" height="40.8" fill="#bdbdbd" stroke="#2a2a2a" stroke-width="0.9"/>
<line x1="287.2" y1="683.7" x2="287.2" y2="673.4" stroke="#444" stroke-width="0.9"/>
<line x1="285.4" y1="673.4" x2="289.1" y2="673.4" stroke="#444" stroke-width="0.9"/>
<rect x="276.3" y="683.7" width="21.9" height="41.0" fill="#333" stroke="#2a2a2a" stroke-width="0.9"/>
<line x1="276.3" y1="724.7" x2="276.3" y2="727.2" stroke="#333" stroke-width="0.9"/>
<text x="265.4" y="740.9" font-size="14.8" textLength="20.6" lengthAdjust="spacingAndGlyphs">WT</text>
<line x1="320.3" y1="623.6" x2="320.3" y2="608.8" stroke="#444" stroke-width="0.9"/>
<line x1="318.5" y1="608.8" x2="322.1" y2="608.8" stroke="#444" stroke-width="0.9"/>
<rect x="309.4" y="623.6" width="21.9" height="101.1" fill="#bdbdbd" stroke="#2a2a2a" stroke-width="0.9"/>
<line x1="342.2" y1="657.8" x2="342.2" y2="645.4" stroke="#444" stroke-width="0.9"/>
<line x1="340.4" y1="645.4" x2="344.0" y2="645.4" stroke="#444" stroke-width="0.9"/>
<rect x="331.3" y="657.8" width="21.9" height="66.9" fill="#333" stroke="#2a2a2a" stroke-width="0.9"/>
<line x1="331.3" y1="724.7" x2="331.3" y2="727.2" stroke="#333" stroke-width="0.9"/>
<text x="312.6" y="740.9" font-size="14.8" textLength="38.8" lengthAdjust="spacingAndGlyphs">K325N</text>
<line x1="375.4" y1="594.6" x2="375.4" y2="575.2" stroke="#444" stroke-width="0.9"/>
<line x1="373.6" y1="575.2" x2="377.2" y2="575.2" stroke="#444" stroke-width="0.9"/>
<rect x="364.5" y="594.6" width="21.9" height="130.1" fill="#bdbdbd" stroke="#2a2a2a" stroke-width="0.9"/>
<line x1="397.3" y1="646.5" x2="397.3" y2="628.3" stroke="#444" stroke-width="0.9"/>
<line x1="395.5" y1="628.3" x2="399.1" y2="628.3" stroke="#444" stroke-width="0.9"/>
<rect x="386.4" y="646.5" width="21.9" height="78.2" fill="#333" stroke="#2a2a2a" stroke-width="0.9"/>
<line x1="386.4" y1="724.7" x2="386.4" y2="727.2" stroke="#333" stroke-width="0.9"/>
<text x="366.5" y="740.9" font-size="14.8" textLength="40.8" lengthAdjust="spacingAndGlyphs">D254G</text>
<line x1="193.4" y1="559.2" x2="193.4" y2="725.2" stroke="#444" stroke-width="1.5"/>
<line x1="192.4" y1="724.7" x2="414" y2="724.7" stroke="#222" stroke-width="1.1"/>
<line x1="189.6" y1="724.7" x2="192.9" y2="724.7" stroke="#222" stroke-width="1"/>
<text x="182.6" y="729.9" font-size="15.2" textLength="7.3" lengthAdjust="spacingAndGlyphs">0</text>
<line x1="191.1" y1="704.1" x2="192.9" y2="704.1" stroke="#222" stroke-width="0.9"/>
<line x1="189.6" y1="683.5" x2="192.9" y2="683.5" stroke="#222" stroke-width="1"/>
<text x="167.3" y="688.7" font-size="15.2" textLength="22.6" lengthAdjust="spacingAndGlyphs">100</text>
<line x1="191.1" y1="662.9" x2="192.9" y2="662.9" stroke="#222" stroke-width="0.9"/>
<line x1="189.6" y1="642.3" x2="192.9" y2="642.3" stroke="#222" stroke-width="1"/>
<text x="167.3" y="647.5" font-size="15.2" textLength="22.6" lengthAdjust="spacingAndGlyphs">200</text>
<line x1="191.1" y1="621.7" x2="192.9" y2="621.7" stroke="#222" stroke-width="0.9"/>
<line x1="189.6" y1="601.2" x2="192.9" y2="601.2" stroke="#222" stroke-width="1"/>
<text x="167.3" y="606.4" font-size="15.2" textLength="22.6" lengthAdjust="spacingAndGlyphs">300</text>
<line x1="191.1" y1="580.6" x2="192.9" y2="580.6" stroke="#222" stroke-width="0.9"/>
<line x1="189.6" y1="560.0" x2="192.9" y2="560.0" stroke="#222" stroke-width="1"/>
<text x="167.3" y="565.2" font-size="15.2" textLength="22.6" lengthAdjust="spacingAndGlyphs">400</text>
<polyline points="320.5,605.3 320.5,595.6 340.2,595.6 340.2,644.6" fill="none" stroke="#2a2a2a" stroke-width="1.15"/>
<polyline points="375.4,574 375.4,571 397.2,571 397.2,623.5" fill="none" stroke="#2a2a2a" stroke-width="1.15"/>
<text x="330" y="589.4" font-size="15" class="b" text-anchor="middle">*</text>
<text x="386.8" y="569" font-size="15" class="b" text-anchor="middle">*</text>
<rect x="204.8" y="576.2" width="28.6" height="11" fill="#bdbdbd" stroke="#333" stroke-width="1"/>
<rect x="204.8" y="592.4" width="28.6" height="11" fill="#333" stroke="#222" stroke-width="1"/>
<text x="239.8" y="586.8" font-size="15.8" textLength="36.4" lengthAdjust="spacingAndGlyphs">GEnC</text>
<text x="239.6" y="602.4" font-size="15.8" textLength="47" lengthAdjust="spacingAndGlyphs">HUVEC</text>
<text x="260" y="758" font-size="14.2" textLength="80" lengthAdjust="spacingAndGlyphs">C3 deposition</text>
<g transform="translate(156.8,680.6) rotate(-90)">
<text x="-0.5" y="0" font-size="15.5" textLength="13.4" lengthAdjust="spacingAndGlyphs">%</text>
<text x="14.7" y="0" font-size="15.5" textLength="13.1" lengthAdjust="spacingAndGlyphs">of</text>
<text x="29.7" y="0" font-size="15.5" textLength="19.8" lengthAdjust="spacingAndGlyphs">the</text>
<text x="51.9" y="0" font-size="15.5" textLength="22.2" lengthAdjust="spacingAndGlyphs">WT</text>
</g>
<text x="139.3" y="565.7" font-size="20.4" class="b">C</text>
</g>
</svg>
</body></html>
